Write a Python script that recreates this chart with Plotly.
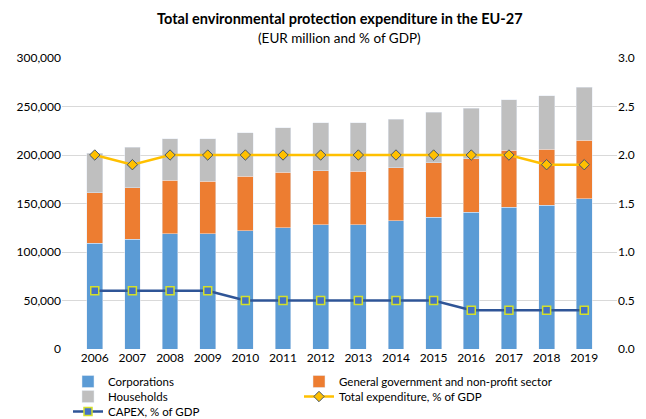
import plotly.graph_objects as go

years = ["2006", "2007", "2008", "2009", "2010", "2011", "2012", "2013",
         "2014", "2015", "2016", "2017", "2018", "2019"]
corporations = [109000, 113000, 119000, 119000, 122000, 125000, 128000, 128000,
                132000, 136000, 141000, 146000, 148000, 155000]
government = [52000, 53000, 55000, 54000, 56000, 57000, 56000, 55000,
              55000, 56000, 55000, 59000, 58000, 60000]
households = [41000, 42000, 43000, 44000, 45000, 46000, 49000, 50000,
              50000, 52000, 52000, 52000, 55000, 55000]
total_pct_gdp = [2.0, 1.9, 2.0, 2.0, 2.0, 2.0, 2.0, 2.0, 2.0, 2.0, 2.0, 2.0, 1.9, 1.9]
capex_pct_gdp = [0.6, 0.6, 0.6, 0.6, 0.5, 0.5, 0.5, 0.5, 0.5, 0.5, 0.4, 0.4, 0.4, 0.4]

FONT = "Lato, Carlito, 'Open Sans', sans-serif"
W, H = 646, 419
ML, MR, MT, MB = 62, 29, 58, 70
PW, PH = W - ML - MR, H - MT - MB

def px_x(x):
    return (x - ML) / PW

def px_y(y):
    return (H - MB - y) / PH

fig = go.Figure()
fig.add_trace(go.Bar(x=years, y=corporations, name="Corporations",
                     marker=dict(color="#5B9BD5"), legend="legend"))
fig.add_trace(go.Bar(x=years, y=government, name="General government and non-profit sector",
                     marker=dict(color="#ED7D31"), legend="legend2"))
fig.add_trace(go.Bar(x=years, y=households, name="Households",
                     marker=dict(color="#BFBFBF"), legend="legend3"))
fig.add_trace(go.Scatter(x=years, y=total_pct_gdp, name="Total expenditure, % of GDP",
                         yaxis="y2", mode="lines+markers", legend="legend4",
                         line=dict(color="#FFC000", width=2.5),
                         marker=dict(symbol="diamond", size=8, color="#FFC000",
                                     line=dict(color="#44546A", width=1))))
fig.add_trace(go.Scatter(x=years, y=capex_pct_gdp, name="CAPEX, % of GDP",
                         yaxis="y2", mode="lines+markers", legend="legend5",
                         line=dict(color="#2F5597", width=2.5),
                         marker=dict(symbol="square", size=8, color="#4472C4",
                                     line=dict(color="#D4E02A", width=1.5))))

legend_common = dict(orientation="v", yanchor="top", xanchor="left",
                     traceorder="normal", itemwidth=30, tracegroupgap=0,
                     bgcolor="rgba(0,0,0,0)",
                     font=dict(family=FONT, size=11.5, color="#000000"))

COL1, COL2 = 68, 299
ROW1, ROW2, ROW3 = 381, 396, 411
OFF = 14

fig.update_layout(
    width=W, height=H,
    barmode="stack", bargap=0.58,
    paper_bgcolor="white", plot_bgcolor="white",
    font=dict(family=FONT, size=12, color="#595959"),
    margin=dict(l=ML, r=MR, t=MT, b=MB, autoexpand=False),
    annotations=[
        dict(text="<b>Total environmental protection expenditure in the EU-27</b>",
             xref="paper", yref="paper", x=0.5, xanchor="center",
             y=px_y(18), yanchor="middle", showarrow=False,
             font=dict(family=FONT, size=14.5, color="#000000")),
        dict(text="(EUR million and % of GDP)",
             xref="paper", yref="paper", x=0.5, xanchor="center",
             y=px_y(38), yanchor="middle", showarrow=False,
             font=dict(family=FONT, size=13.5, color="#000000")),
    ],
    xaxis=dict(showgrid=False, showline=False, ticks="", tickfont=dict(color="#000000", size=12)),
    yaxis=dict(range=[0, 300000], dtick=50000, tickformat=",", showgrid=True,
               gridcolor="#D9D9D9", gridwidth=1, zeroline=False,
               tickfont=dict(color="#000000", size=12), ticklen=0),
    yaxis2=dict(range=[0, 3.0], dtick=0.5, tickformat=".1f", overlaying="y", side="right",
                showgrid=False, zeroline=False, tickfont=dict(color="#000000", size=12)),
    legend=dict(x=px_x(COL1), y=px_y(ROW1 - OFF), **legend_common),
    legend2=dict(x=px_x(COL2), y=px_y(ROW1 - OFF), **legend_common),
    legend3=dict(x=px_x(COL1), y=px_y(ROW2 - OFF), **legend_common),
    legend4=dict(x=px_x(COL2), y=px_y(ROW2 - OFF), **legend_common),
    legend5=dict(x=px_x(COL1), y=px_y(ROW3 - OFF), **legend_common),
    showlegend=True,
)

fig.write_html("out.html", config={"displayModeBar": False},
               post_script="document.body.style.margin='0';")
